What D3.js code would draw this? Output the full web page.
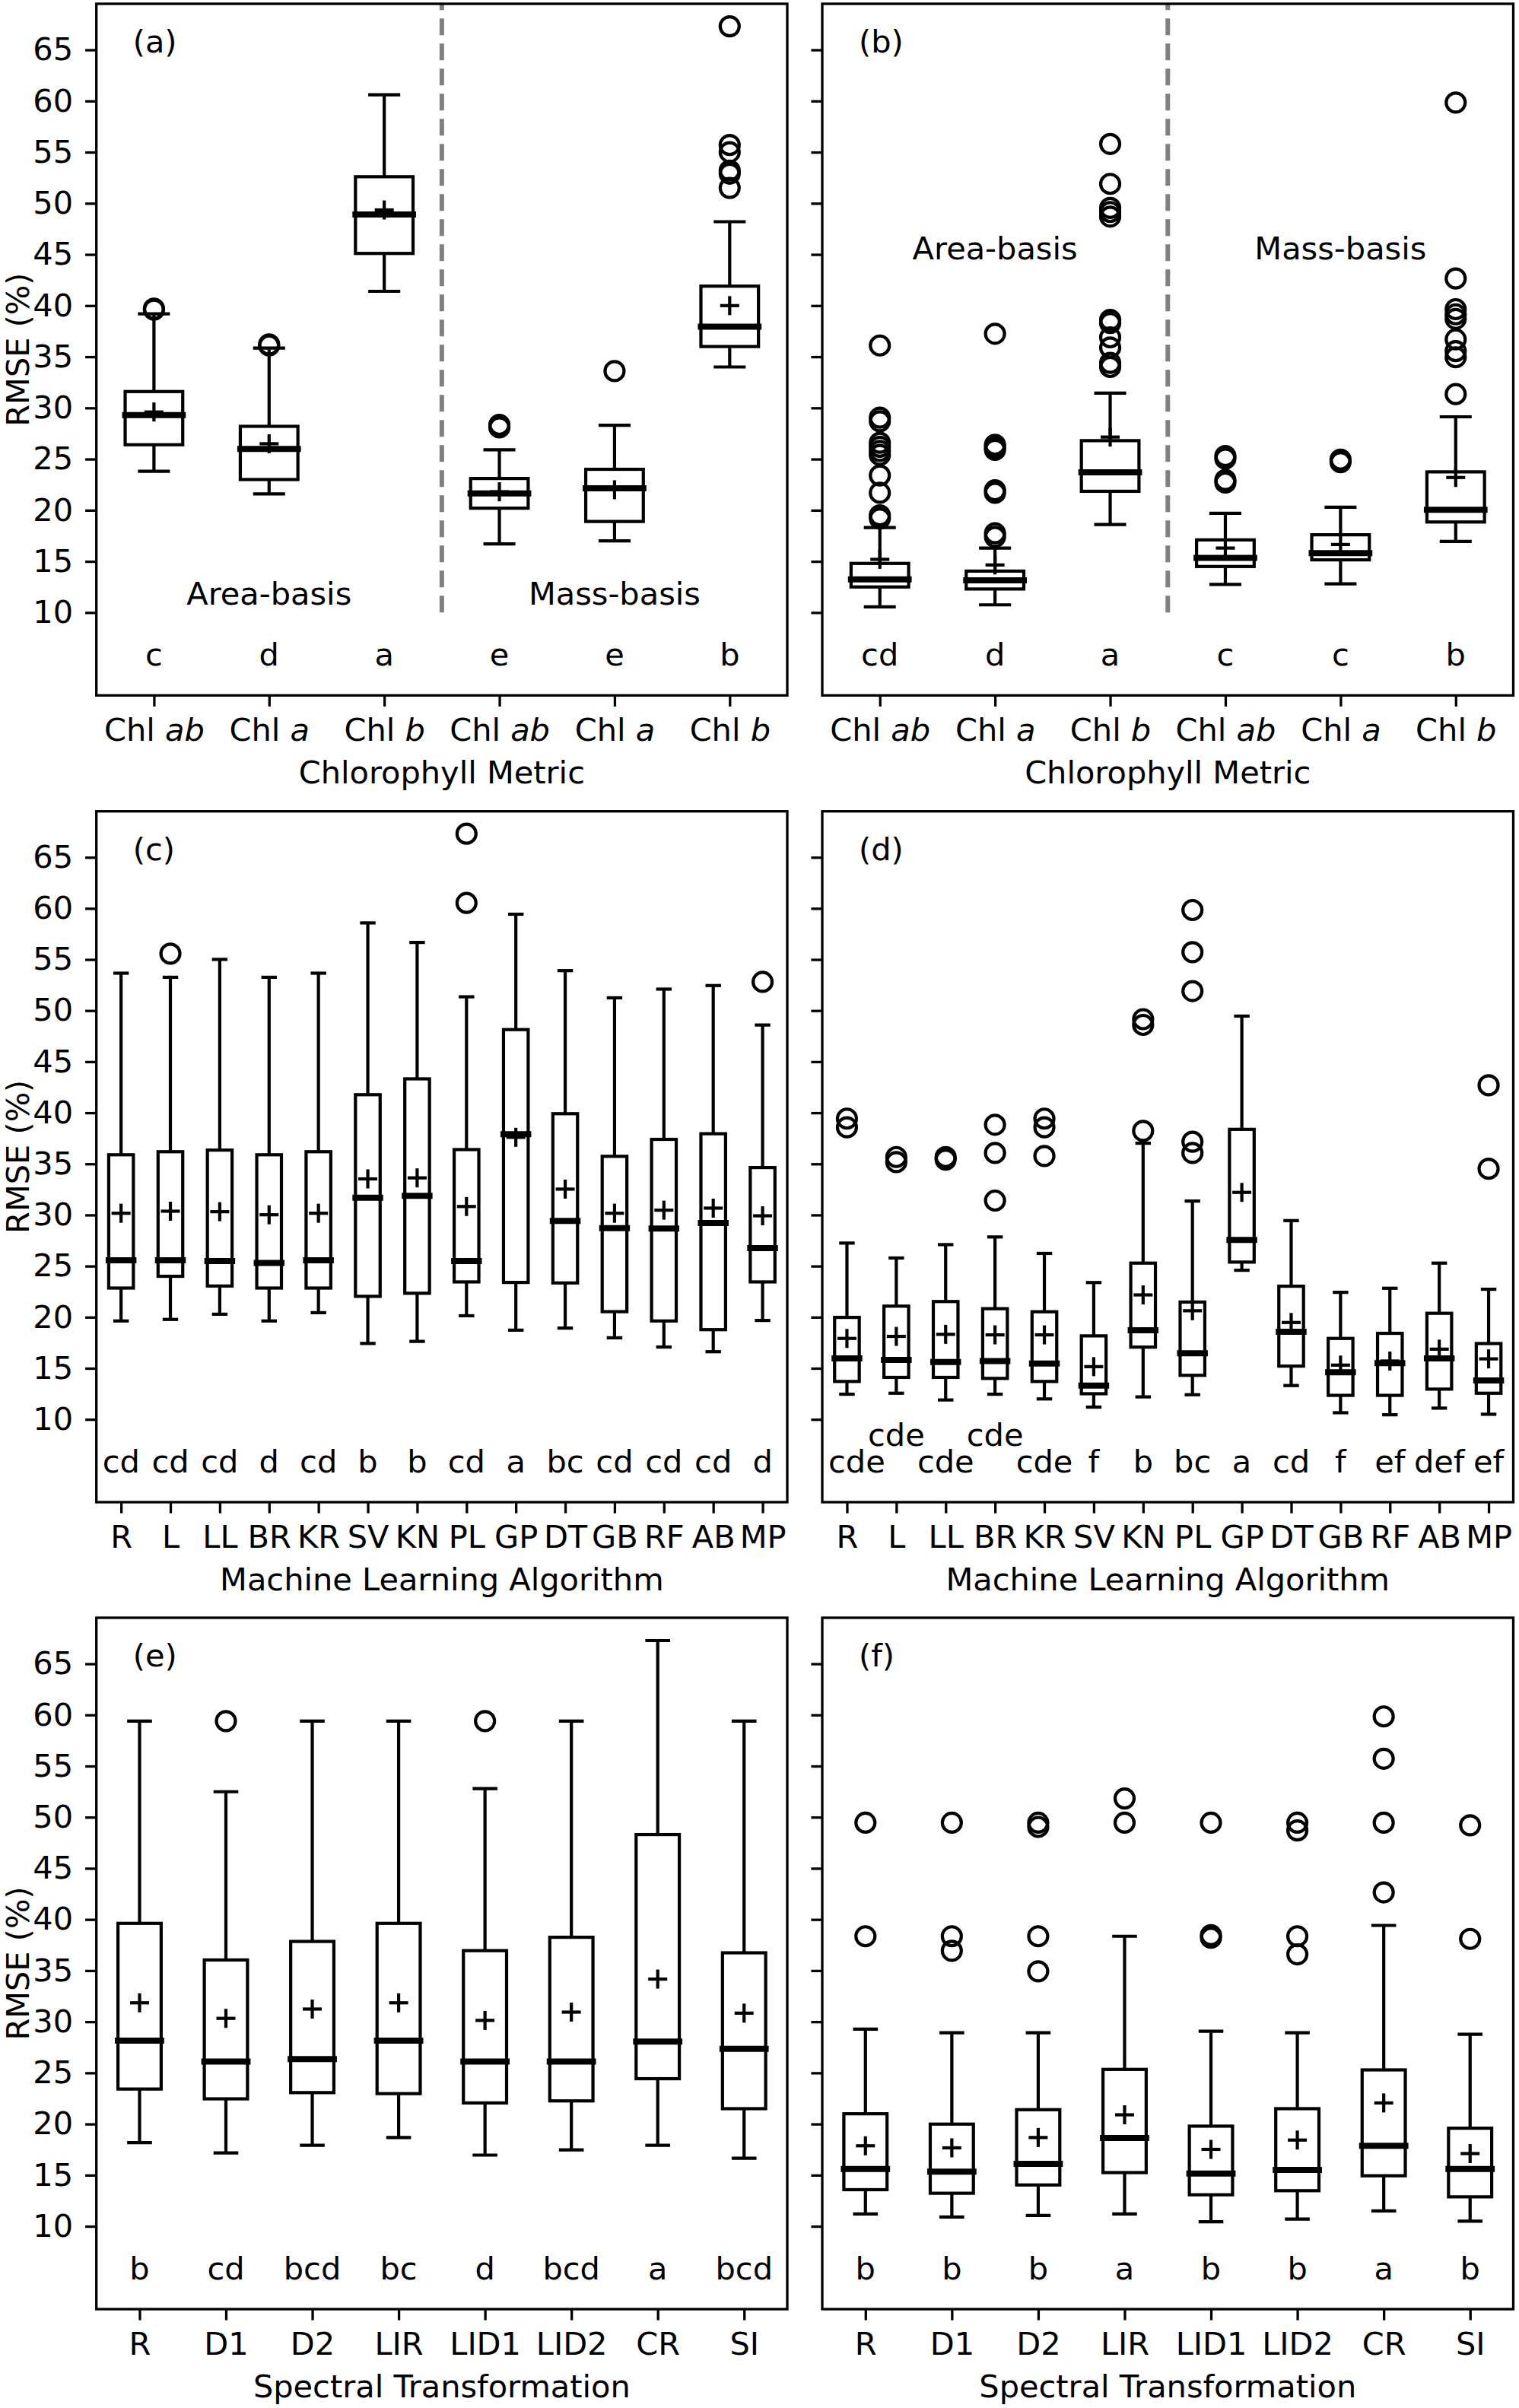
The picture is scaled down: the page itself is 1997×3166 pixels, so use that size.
<!DOCTYPE html>
<html>
<head>
<meta charset="utf-8">
<script src="https://cdn.jsdelivr.net/npm/d3@7.9.0/dist/d3.min.js"></script>
<style>
  html, body { margin: 0; padding: 0; background: #fff; }
  svg { display: block; font-family: "DejaVu Sans", sans-serif; }
</style>
</head>
<body>
<svg id="chart" width="1997" height="3166"></svg>
<script>
// category / tick labels
const metricLabels = ["Chl ab", "Chl a", "Chl b", "Chl ab", "Chl a", "Chl b"];
const algoLabels = ["R", "L", "LL", "BR", "KR", "SV", "KN", "PL", "GP", "DT", "GB", "RF", "AB", "MP"];
const transLabels = ["R", "D1", "D2", "LIR", "LID1", "LID2", "CR", "SI"];
const yTicks = [10, 15, 20, 25, 30, 35, 40, 45, 50, 55, 60, 65];
const basisLabels = ["Area-basis", "Mass-basis"];

// each box: [whisker low, q1, median, q3, whisker high, mean]
const boxesA = [
  [23.8, 26.4, 29.3, 31.6, 39.2, 29.6],
  [21.6, 23.0, 26.0, 28.2, 35.85, 26.5],
  [41.4, 45.1, 48.9, 52.6, 60.6, 49.35],
  [16.7, 20.2, 21.65, 23.1, 25.9, 21.8],
  [17.0, 18.9, 22.15, 24.0, 28.3, 22.0],
  [34.0, 36.0, 37.95, 41.9, 48.2, 40.0]
];
const outliersA = [[39.7, 39.6], [36.2, 36.1], [], [28.35, 28.1], [33.6], [67.3, 55.7, 55.0, 53.2, 52.9, 51.5]];
const lettersA = ["c", "d", "a", "e", "e", "b"];

const boxesB = [
  [10.55, 12.5, 13.25, 14.8, 18.3, 15.2],
  [10.75, 12.3, 13.15, 14.05, 16.3, 14.65],
  [18.6, 21.85, 23.7, 26.8, 31.45, 27.15],
  [12.75, 14.5, 15.35, 17.1, 19.7, 16.3],
  [12.8, 15.15, 15.8, 17.6, 20.3, 16.65],
  [16.95, 18.85, 20.05, 23.75, 29.13, 23.2]
];
const outliersB = [
  [36.1, 29.05, 28.7, 26.6, 26.2, 25.8, 25.4, 23.4, 21.7, 19.5, 19.2],
  [37.25, 26.4, 26.15, 25.9, 21.95, 21.7, 17.75, 17.4],
  [55.8, 51.9, 49.55, 49.15, 48.7, 38.6, 38.3, 36.9, 35.9, 34.4, 34.0],
  [25.3, 25.05, 22.95, 22.7],
  [24.95, 24.7],
  [59.85, 42.65, 39.65, 39.15, 38.7, 36.7, 35.55, 34.95, 31.35]
];
const lettersB = ["cd", "d", "a", "c", "c", "b"];

const boxesC = [
  [19.63, 22.85, 25.56, 35.89, 53.66, 30.17],
  [19.78, 24.0, 25.56, 36.19, 53.26, 30.37],
  [20.29, 23.05, 25.5, 36.35, 55.01, 30.32],
  [19.63, 22.85, 25.3, 35.89, 53.26, 30.02],
  [20.44, 22.85, 25.56, 36.19, 53.66, 30.17],
  [17.43, 22.04, 31.68, 41.77, 58.58, 33.53],
  [17.63, 22.34, 31.88, 43.32, 56.67, 33.63],
  [20.14, 23.45, 25.5, 36.4, 51.35, 30.83],
  [18.73, 23.4, 37.9, 48.14, 59.43, 37.6],
  [18.93, 23.35, 29.42, 39.91, 53.91, 32.53],
  [17.98, 20.54, 28.72, 35.74, 51.25, 30.17],
  [17.08, 19.63, 28.67, 37.4, 52.1, 30.47],
  [16.62, 18.78, 29.22, 37.95, 52.45, 30.67],
  [19.68, 23.45, 26.76, 34.64, 48.59, 29.92]
];
const outliersC = [[], [55.57], [], [], [], [], [], [67.31, 60.53], [], [], [], [], [], [52.81]];
const lettersC = ["cd", "cd", "cd", "d", "cd", "b", "b", "cd", "a", "bc", "cd", "cd", "cd", "d"];

const boxesD = [
  [12.46, 13.71, 15.97, 19.98, 27.25, 17.92],
  [12.56, 14.11, 15.81, 21.08, 25.79, 18.12],
  [11.9, 14.11, 15.61, 21.53, 27.1, 18.32],
  [12.46, 14.01, 15.71, 20.83, 27.85, 18.27],
  [12.0, 13.71, 15.46, 20.53, 26.24, 18.27],
  [11.2, 12.51, 13.31, 18.17, 23.39, 15.16],
  [12.2, 17.07, 18.72, 25.29, 37.02, 22.18],
  [12.41, 14.31, 16.47, 21.48, 31.36, 20.63],
  [24.59, 25.39, 27.55, 38.38, 49.46, 32.21],
  [13.31, 15.21, 18.57, 23.03, 29.45, 19.48],
  [10.65, 12.35, 14.61, 17.92, 22.43, 15.31],
  [10.45, 12.35, 15.51, 18.42, 22.83, 15.71],
  [11.1, 12.96, 15.97, 20.38, 25.29, 16.87],
  [10.5, 12.56, 13.81, 17.42, 22.73, 15.92]
];
const outliersD = [
  [39.43, 38.58], [35.67, 35.17], [35.67, 35.42], [38.83, 36.07, 31.41], [39.43, 38.58, 35.77],
  [], [49.16, 48.6, 38.23], [59.84, 55.72, 51.91, 37.17, 36.07], [], [], [], [], [], [42.69, 34.52]
];
const lettersD = ["cde", "cde", "cde", "cde", "cde", "f", "b", "bc", "a", "cd", "f", "ef", "def", "ef"];
const letterRowD = [0, 1, 0, 1, 0, 0, 0, 0, 0, 0, 0, 0, 0, 0];

const boxesE = [
  [18.17, 23.42, 28.16, 39.62, 59.4, 31.85],
  [17.17, 22.46, 26.1, 36.04, 52.49, 30.33],
  [17.92, 23.07, 26.35, 37.85, 59.4, 31.24],
  [18.68, 22.97, 28.16, 39.62, 59.4, 31.85],
  [16.96, 22.06, 26.1, 36.95, 52.79, 30.13],
  [17.47, 22.26, 26.1, 38.26, 59.4, 30.94],
  [17.92, 24.43, 28.06, 48.3, 67.27, 34.17],
  [16.66, 21.5, 27.36, 36.74, 59.4, 30.84]
];
const outliersE = [[], [59.4], [], [], [59.4], [], [], []];
const lettersE = ["b", "cd", "bcd", "bc", "d", "bcd", "a", "bcd"];

const boxesF = [
  [11.21, 13.58, 15.6, 21.0, 29.27, 17.87],
  [10.91, 13.23, 15.35, 19.99, 28.92, 17.67],
  [11.06, 14.04, 16.1, 21.4, 28.92, 18.68],
  [11.21, 15.25, 18.63, 25.34, 38.36, 20.9],
  [10.45, 13.08, 15.15, 19.79, 29.07, 17.52],
  [10.7, 13.48, 15.5, 21.5, 28.92, 18.43],
  [11.51, 14.94, 17.87, 25.29, 39.42, 22.06],
  [10.5, 12.88, 15.6, 19.59, 28.77, 17.11]
];
const outliersF = [
  [49.46, 38.36], [49.46, 38.36, 36.94], [49.46, 49.05, 38.36, 34.93], [51.83, 49.46],
  [49.46, 38.46, 38.21], [49.46, 48.7, 38.36, 36.59], [59.85, 55.72, 49.46, 42.65], [49.21, 38.1]
];
const lettersF = ["b", "b", "b", "a", "b", "b", "a", "b"];

// layout
const FS = 41.5;
const colX = [[126.7, 1035], [1081, 1989.5]];
const rowY = [[5, 914.3], [1066.7, 1975], [2127, 3036]];

const svg = d3.select("#chart");
svg.append("rect").attr("width", 1997).attr("height", 3166).attr("fill", "#fff");

const panels = [
  { tag: "(a)", col: 0, row: 0, labels: metricLabels, boxes: boxesA, outliers: outliersA, letters: lettersA, title: "Chlorophyll Metric", divider: true, basisY: 10.8 },
  { tag: "(b)", col: 1, row: 0, labels: metricLabels, boxes: boxesB, outliers: outliersB, letters: lettersB, title: "Chlorophyll Metric", divider: true, basisY: 44.5 },
  { tag: "(c)", col: 0, row: 1, labels: algoLabels, boxes: boxesC, outliers: outliersC, letters: lettersC, title: "Machine Learning Algorithm" },
  { tag: "(d)", col: 1, row: 1, labels: algoLabels, boxes: boxesD, outliers: outliersD, letters: lettersD, letterRow: letterRowD, title: "Machine Learning Algorithm" },
  { tag: "(e)", col: 0, row: 2, labels: transLabels, boxes: boxesE, outliers: outliersE, letters: lettersE, title: "Spectral Transformation" },
  { tag: "(f)", col: 1, row: 2, labels: transLabels, boxes: boxesF, outliers: outliersF, letters: lettersF, title: "Spectral Transformation" }
];

panels.forEach(p => drawPanel(p));

function drawPanel(p) {
  const [x0, x1] = colX[p.col];
  const [y0, y1] = rowY[p.row];
  const n = p.labels.length;
  const x = d3.scaleLinear().domain([0.5, n + 0.5]).range([x0, x1]);
  const y = d3.scaleLinear().domain([1.9, 69.5]).range([y1, y0]);
  const step = x(2) - x(1);
  const g = svg.append("g");

  // y axis
  const yAxis = d3.axisLeft(y).tickValues(yTicks).tickSize(14.6).tickPadding(16)
    .tickFormat(p.col === 0 ? d3.format("d") : () => "");
  const ya = g.append("g").attr("transform", `translate(${x0},0)`).call(yAxis);
  styleAxis(ya);

  // x axis
  const xAxis = d3.axisBottom(x).tickValues(d3.range(1, n + 1)).tickSize(14.6).tickPadding(15.5)
    .tickFormat(i => p.labels[i - 1]);
  const xa = g.append("g").attr("transform", `translate(0,${y1})`).call(xAxis);
  styleAxis(xa);
  xa.selectAll(".tick text").each(function(i) {
    const lab = p.labels[i - 1];
    if (lab.startsWith("Chl ")) {
      const t = d3.select(this);
      t.text(null);
      t.append("tspan").text("Chl ");
      t.append("tspan").attr("font-style", "italic").text(lab.slice(4));
    }
  });

  // divider between area/mass basis
  if (p.divider) {
    g.append("line")
      .attr("x1", x(3.5)).attr("x2", x(3.5))
      .attr("y1", y(10)).attr("y2", y0)
      .attr("stroke", "#808080").attr("stroke-width", 6)
      .attr("stroke-dasharray", "22 11");
    basisLabels.forEach((t, k) => {
      g.append("text").attr("x", x(2 + 3 * k)).attr("y", y(p.basisY))
        .attr("text-anchor", "middle").attr("font-size", FS).text(t);
    });
  }

  const bw = step * 0.5, cw = step * 0.25;
  const boxes = g.selectAll("g.box").data(p.boxes).join("g").attr("class", "box");
  boxes.each(function(b, i) {
    const cx = x(i + 1);
    const bg = d3.select(this);
    const [lo, q1, med, q3, hi, mean] = b;
    bg.append("line").attr("x1", cx).attr("x2", cx).attr("y1", y(lo)).attr("y2", y(q1));
    bg.append("line").attr("x1", cx).attr("x2", cx).attr("y1", y(q3)).attr("y2", y(hi));
    bg.append("line").attr("x1", cx - cw / 2).attr("x2", cx + cw / 2).attr("y1", y(lo)).attr("y2", y(lo)).attr("stroke-linecap", "square");
    bg.append("line").attr("x1", cx - cw / 2).attr("x2", cx + cw / 2).attr("y1", y(hi)).attr("y2", y(hi)).attr("stroke-linecap", "square");
    bg.append("rect").attr("x", cx - bw / 2).attr("width", bw)
      .attr("y", y(q3)).attr("height", y(q1) - y(q3)).attr("fill", "none");
    bg.append("line").attr("x1", cx - bw / 2).attr("x2", cx + bw / 2)
      .attr("y1", y(med)).attr("y2", y(med)).attr("stroke-width", 8).attr("stroke-linecap", "square");
    const ym = y(mean);
    bg.append("line").attr("x1", cx - 12.5).attr("x2", cx + 12.5).attr("y1", ym).attr("y2", ym);
    bg.append("line").attr("x1", cx).attr("x2", cx).attr("y1", ym - 12.5).attr("y2", ym + 12.5);
    bg.selectAll("circle").data(p.outliers[i]).join("circle")
      .attr("cx", cx).attr("cy", v => y(v)).attr("r", 12.5).attr("fill", "none");
  });
  boxes.selectAll("line, rect, circle").attr("stroke", "#000").filter(function() {
    return !this.getAttribute("stroke-width");
  }).attr("stroke-width", 4.2);

  // significance letters, kept clear of the frame
  g.selectAll("text.letter").data(p.letters).join("text").attr("class", "letter")
    .attr("x", (d, i) => x(i + 1))
    .attr("y", (d, i) => y(p.letterRow && p.letterRow[i] ? 7.4 : 4.8))
    .attr("text-anchor", "middle").attr("font-size", FS).text(d => d)
    .each(function() {
      const half = this.getComputedTextLength() / 2;
      const cx = +this.getAttribute("x");
      if (cx - half < x0 + 8) this.setAttribute("x", x0 + 8 + half);
    });

  // frame
  g.append("rect").attr("x", x0).attr("y", y0).attr("width", x1 - x0).attr("height", y1 - y0)
    .attr("fill", "none").attr("stroke", "#000").attr("stroke-width", 3.3);

  // panel tag
  g.append("text").attr("x", x0 + 48).attr("y", y0 + 64).attr("font-size", FS).text(p.tag);

  // axis titles
  g.append("text").attr("x", (x0 + x1) / 2).attr("y", y1 + 116)
    .attr("text-anchor", "middle").attr("font-size", FS).text(p.title);
  if (p.col === 0) {
    g.append("text").attr("transform", `translate(37.5,${(y0 + y1) / 2}) rotate(-90)`)
      .attr("text-anchor", "middle").attr("font-size", FS).text("RMSE (%)");
  }
}

function styleAxis(a) {
  a.select(".domain").remove();
  a.selectAll(".tick line").attr("stroke", "#000").attr("stroke-width", 3.3);
  a.selectAll(".tick text").attr("fill", "#000").attr("font-size", FS)
    .attr("font-family", "DejaVu Sans, sans-serif");
}
</script>
</body>
</html>
